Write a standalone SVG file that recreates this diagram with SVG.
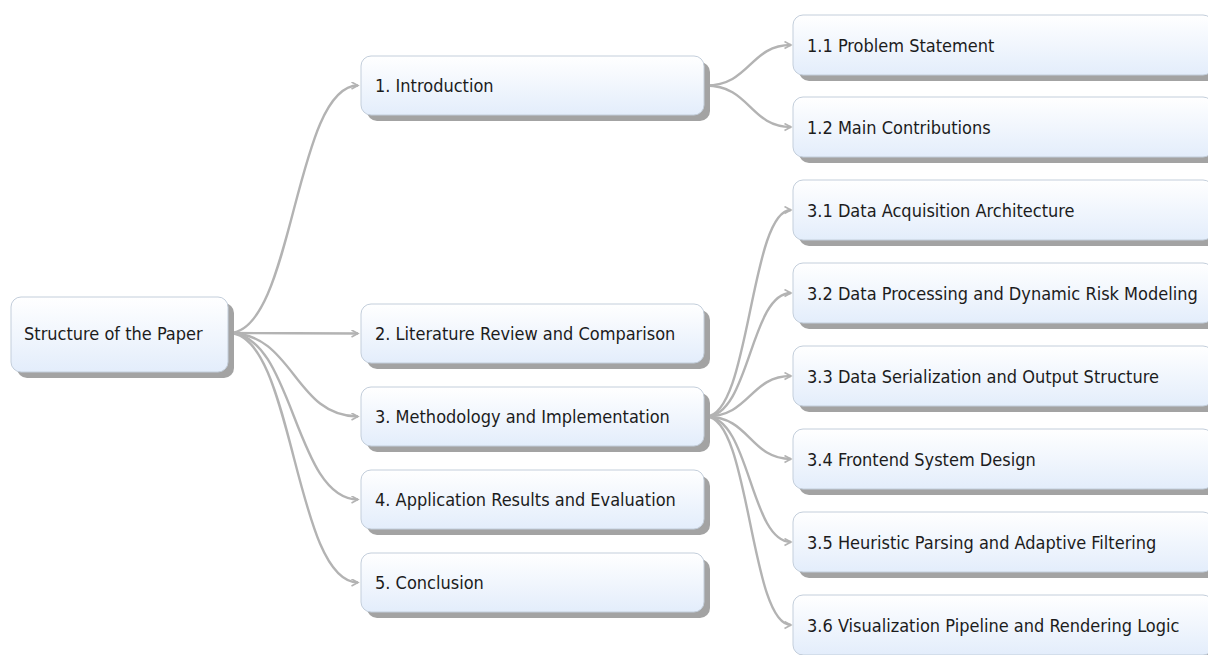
<svg xmlns="http://www.w3.org/2000/svg" width="1208" height="655" viewBox="0 0 1208 655">
<defs>
<linearGradient id="g" x1="0" y1="0" x2="0" y2="1">
<stop offset="0" stop-color="#ffffff"/>
<stop offset="1" stop-color="#e3edfb"/>
</linearGradient>
<marker id="arr" markerUnits="userSpaceOnUse" markerWidth="10" markerHeight="10" refX="7" refY="4" orient="auto" viewBox="0 0 10 10">
<path d="M0.5,0.5 L7,4 L0.5,7.5" fill="none" stroke="#b3b3b3" stroke-width="1.6"/>
</marker>
</defs>
<style>
.sh{fill:#a3a3a3}
.bx{fill:url(#g);stroke:#c3cedb;stroke-width:1}
.t{font-family:"DejaVu Sans Condensed","DejaVu Sans",sans-serif;font-size:18px;fill:#1c1c1c}
.c path{fill:none;stroke:#b3b3b3;stroke-width:2.4;marker-end:url(#arr)}
</style>
<rect width="1208" height="655" fill="#ffffff"/>
<g class="c" id="connectors">
<path d="M229,333 C294,333 294,85.5 358,85.5"/>
<path d="M229,333 C294,333 294,333.5 358,333.5"/>
<path d="M229,333 C294,333 294,416.5 358,416.5"/>
<path d="M229,333 C294,333 294,499.5 358,499.5"/>
<path d="M229,333 C294,333 294,582.5 358,582.5"/>
<path d="M706,85.5 C750,85.5 750,45 791,45"/>
<path d="M706,85.5 C750,85.5 750,127 791,127"/>
<path d="M706,416.5 C750,416.5 750,210 791,210"/>
<path d="M706,416.5 C750,416.5 750,293 791,293"/>
<path d="M706,416.5 C750,416.5 750,376 791,376"/>
<path d="M706,416.5 C750,416.5 750,459 791,459"/>
<path d="M706,416.5 C750,416.5 750,542 791,542"/>
<path d="M706,416.5 C750,416.5 750,625 791,625"/>
</g>
<g id="root">
<rect class="sh" x="17" y="303" width="217" height="75" rx="10"/>
<rect class="bx" x="11" y="297" width="217" height="75" rx="10"/>
<text class="t" x="24" y="339.5">Structure of the Paper</text>
</g>
<g id="n1">
<rect class="sh" x="367" y="62" width="343" height="59" rx="10"/>
<rect class="bx" x="361" y="56" width="343" height="59" rx="10"/>
<text class="t" x="375" y="92">1. Introduction</text>
</g>
<g id="n2">
<rect class="sh" x="367" y="310" width="343" height="59" rx="10"/>
<rect class="bx" x="361" y="304" width="343" height="59" rx="10"/>
<text class="t" x="375" y="340">2. Literature Review and Comparison</text>
</g>
<g id="n3">
<rect class="sh" x="367" y="393" width="343" height="59" rx="10"/>
<rect class="bx" x="361" y="387" width="343" height="59" rx="10"/>
<text class="t" x="375" y="423">3. Methodology and Implementation</text>
</g>
<g id="n4">
<rect class="sh" x="367" y="476" width="343" height="59" rx="10"/>
<rect class="bx" x="361" y="470" width="343" height="59" rx="10"/>
<text class="t" x="375" y="506">4. Application Results and Evaluation</text>
</g>
<g id="n5">
<rect class="sh" x="367" y="559" width="343" height="59" rx="10"/>
<rect class="bx" x="361" y="553" width="343" height="59" rx="10"/>
<text class="t" x="375" y="589">5. Conclusion</text>
</g>
<g id="n11">
<rect class="sh" x="799" y="21" width="420" height="60" rx="10"/>
<rect class="bx" x="793" y="15" width="420" height="60" rx="10"/>
<text class="t" x="807" y="51.5">1.1 Problem Statement</text>
</g>
<g id="n12">
<rect class="sh" x="799" y="103" width="420" height="60" rx="10"/>
<rect class="bx" x="793" y="97" width="420" height="60" rx="10"/>
<text class="t" x="807" y="133.5">1.2 Main Contributions</text>
</g>
<g id="n31">
<rect class="sh" x="799" y="186" width="420" height="60" rx="10"/>
<rect class="bx" x="793" y="180" width="420" height="60" rx="10"/>
<text class="t" x="807" y="216.5">3.1 Data Acquisition Architecture</text>
</g>
<g id="n32">
<rect class="sh" x="799" y="269" width="420" height="60" rx="10"/>
<rect class="bx" x="793" y="263" width="420" height="60" rx="10"/>
<text class="t" x="807" y="299.5">3.2 Data Processing and Dynamic Risk Modeling</text>
</g>
<g id="n33">
<rect class="sh" x="799" y="352" width="420" height="60" rx="10"/>
<rect class="bx" x="793" y="346" width="420" height="60" rx="10"/>
<text class="t" x="807" y="382.5">3.3 Data Serialization and Output Structure</text>
</g>
<g id="n34">
<rect class="sh" x="799" y="435" width="420" height="60" rx="10"/>
<rect class="bx" x="793" y="429" width="420" height="60" rx="10"/>
<text class="t" x="807" y="465.5">3.4 Frontend System Design</text>
</g>
<g id="n35">
<rect class="sh" x="799" y="518" width="420" height="60" rx="10"/>
<rect class="bx" x="793" y="512" width="420" height="60" rx="10"/>
<text class="t" x="807" y="548.5">3.5 Heuristic Parsing and Adaptive Filtering</text>
</g>
<g id="n36">
<rect class="sh" x="799" y="601" width="420" height="60" rx="10"/>
<rect class="bx" x="793" y="595" width="420" height="60" rx="10"/>
<text class="t" x="807" y="631.5">3.6 Visualization Pipeline and Rendering Logic</text>
</g>
</svg>
